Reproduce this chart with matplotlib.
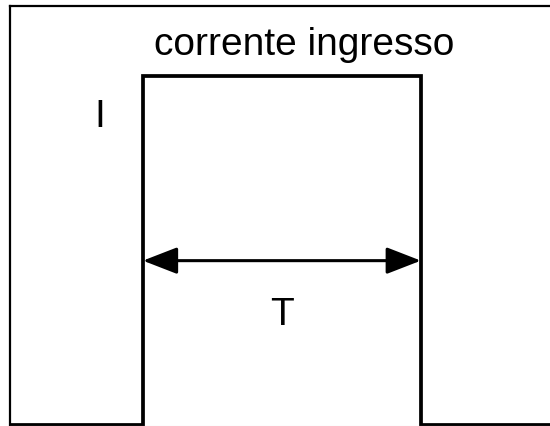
import matplotlib
matplotlib.use('Agg')
import matplotlib.pyplot as plt

plt.rcParams['font.family'] = ['Liberation Sans', 'DejaVu Sans']

# pulse of input current
t = [0.0, 1.0, 1.0, 2.0, 2.0, 3.0]
i_in = [0.0, 0.0, 1.0, 1.0, 0.0, 0.0]
t_start = 1.0
t_end = 2.0
title_txt = 'corrente ingresso'
lab_I = 'I'
lab_T = 'T'

fig = plt.figure(figsize=(5.5, 4.27), dpi=100)
ax = fig.add_axes([10/550, 0.0, 1.0, 420/427])
ax.plot(t, i_in, color='black', lw=2.7, solid_joinstyle='miter')
ax.set_xlim(0.522, 0.522 + 550/278)
ax.set_ylim(-0.004, 1.2)

# width arrow
ax.annotate('', xy=(t_start, 0.47), xytext=(t_end, 0.47),
            arrowprops=dict(arrowstyle='<|-|>,head_length=0.85,head_width=0.33',
                            color='black', lw=2.2, shrinkA=0, shrinkB=0,
                            mutation_scale=25))
ax.text((t_start + t_end)/2, 0.318, lab_T, fontsize=28, ha='center', va='center')
ax.text(0.845, 0.885, lab_I, fontsize=28, ha='center', va='center')
ax.text(1.58, 1.063, title_txt, fontsize=28, ha='center', va='baseline')

ax.set_xticks([])
ax.set_yticks([])
for s in ['left', 'top']:
    ax.spines[s].set_linewidth(1.6)
ax.spines['right'].set_visible(False)
ax.spines['bottom'].set_color('#dddddd')

fig.savefig('out.png', dpi=100)
